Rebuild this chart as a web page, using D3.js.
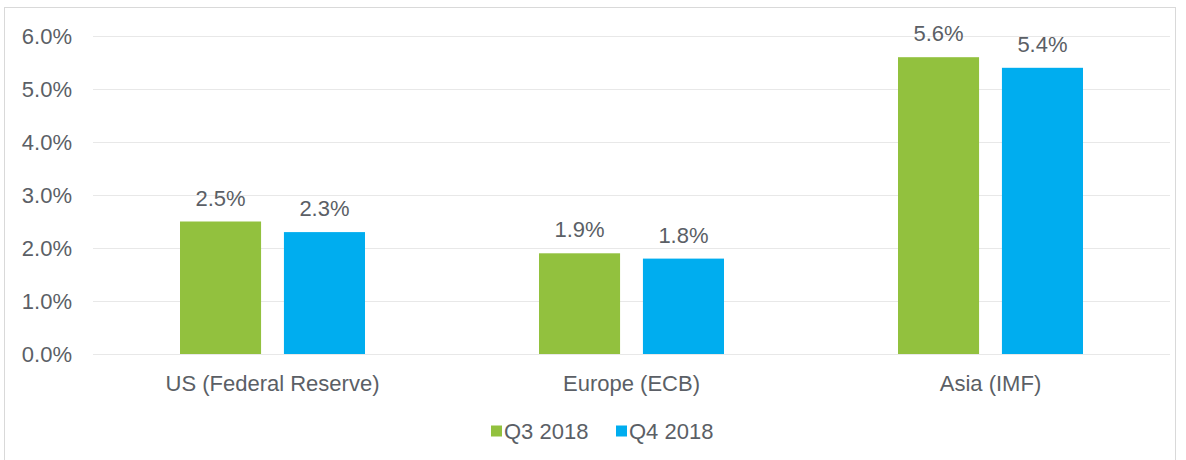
<!DOCTYPE html>
<html>
<head>
<meta charset="utf-8">
<script src="https://cdn.jsdelivr.net/npm/d3@7"></script>
<style>
  body { margin: 0; background: #fff; }
  svg { display: block; font-family: "Liberation Sans", Arial, sans-serif; }
</style>
</head>
<body>
<svg id="chart" width="1186" height="460"></svg>
<script>
const regions = ["US (Federal Reserve)", "Europe (ECB)", "Asia (IMF)"];
const seriesNames = ["Q3 2018", "Q4 2018"];
const q3 = [2.5, 1.9, 5.6];
const q4 = [2.3, 1.8, 5.4];
const colors = ["#92c13e", "#00adef"];
const yTicks = [0, 1, 2, 3, 4, 5, 6];

const svg = d3.select("#chart");
const margin = { left: 93, right: 16, top: 36, bottom: 106 };
const width = 1186, height = 460;
const textColor = "#5b5f66";
const fontSize = "22px";

// outer frame
svg.append("rect")
  .attr("x", 4.5).attr("y", 7.5)
  .attr("width", 1171).attr("height", 460)
  .attr("fill", "none").attr("stroke", "#d9d9d9");

const x0 = d3.scaleBand()
  .domain(regions)
  .range([margin.left, width - margin.right]);

const x1 = d3.scaleBand()
  .domain(seriesNames)
  .range([87, x0.bandwidth() - 87])
  .paddingInner(0.22);

const y = d3.scaleLinear()
  .domain([0, 6])
  .range([height - margin.bottom, margin.top]);

// gridlines + y labels
const yAxis = svg.append("g")
  .attr("transform", `translate(${margin.left},0)`)
  .call(d3.axisLeft(y).tickValues(yTicks)
    .tickSize(-(width - margin.left - margin.right))
    .tickPadding(21)
    .tickFormat(d => d.toFixed(1) + "%"));
yAxis.select(".domain").remove();
yAxis.selectAll(".tick line").attr("stroke", "#e8e8e8");
yAxis.selectAll(".tick text")
  .attr("fill", textColor)
  .style("font-size", fontSize)
  .style("font-family", "Liberation Sans, Arial, sans-serif");

const rows = regions.map((r, i) => ({ region: r, values: [q3[i], q4[i]] }));

const groups = svg.append("g").selectAll("g")
  .data(rows)
  .enter().append("g")
  .attr("transform", d => `translate(${x0(d.region)},0)`);

groups.selectAll("rect")
  .data(d => d.values.map((v, j) => ({ key: seriesNames[j], value: v, j })))
  .enter().append("rect")
  .attr("x", d => x1(d.key))
  .attr("y", d => y(d.value))
  .attr("width", x1.bandwidth())
  .attr("height", d => y(0) - y(d.value))
  .attr("fill", d => colors[d.j]);

groups.selectAll("text.val")
  .data(d => d.values.map((v, j) => ({ key: seriesNames[j], value: v })))
  .enter().append("text")
  .attr("class", "val")
  .attr("x", d => x1(d.key) + x1.bandwidth() / 2)
  .attr("y", d => y(d.value) - 16)
  .attr("text-anchor", "middle")
  .attr("fill", textColor)
  .style("font-size", fontSize)
  .text(d => d.value.toFixed(1) + "%");

// category labels
svg.append("g").selectAll("text")
  .data(regions)
  .enter().append("text")
  .attr("x", d => x0(d) + x0.bandwidth() / 2)
  .attr("y", 391)
  .attr("text-anchor", "middle")
  .attr("fill", textColor)
  .style("font-size", fontSize)
  .text(d => d);

// legend
const legend = svg.append("g").attr("transform", "translate(491,431)");
const legendX = [0, 125];
seriesNames.forEach((s, i) => {
  const g = legend.append("g").attr("transform", `translate(${legendX[i]},0)`);
  g.append("rect").attr("x", 0).attr("y", -5.5).attr("width", 11).attr("height", 11).attr("fill", colors[i]);
  g.append("text").attr("x", 13).attr("y", 8)
    .attr("fill", textColor).style("font-size", fontSize).text(s);
});
</script>
</body>
</html>
